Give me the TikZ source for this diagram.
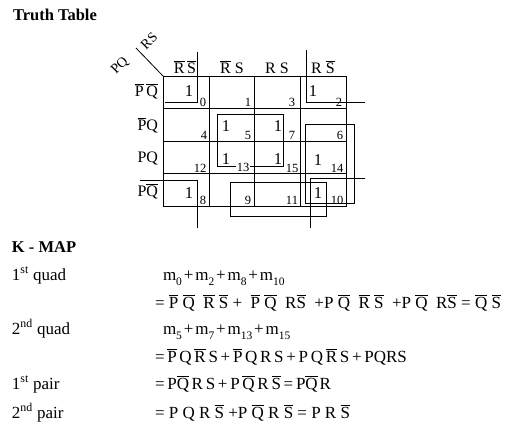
\documentclass[tikz,border=0pt]{standalone}
\usepackage{fontspec}
\setmainfont{Liberation Serif}
\newcommand\ob[1]{\ensuremath{\overline{\mbox{#1}}}}
\newcommand\fs[1]{\fontsize{#1}{#1}\selectfont}
\newcommand\sbs[1]{\raisebox{-0.3em}{\fs{11.5}#1}}
\newcommand\tsp{\hspace{0.16em}}
\newcommand\vsp{\hspace{0.11em}}
\begin{document}
\begin{tikzpicture}[x=1pt,y=-1pt,
  every node/.style={inner sep=0pt,outer sep=0pt},
  txt/.style={font=\fs{17},anchor=base west},
  ttl/.style={font=\bfseries\fs{16.5},anchor=base west},
  one/.style={font=\fs{16.5},anchor=base},
  num/.style={font=\fs{12.5},anchor=base},
  hdr/.style={font=\fs{16},anchor=base},
  rowl/.style={font=\fs{16},anchor=base east},
  diag/.style={font=\fs{14},rotate=45},
  gridline/.style={line width=0.8pt},
  loopline/.style={line width=0.8pt}]
\useasboundingbox (0,0) rectangle (511,431);
% title
\node[ttl] (title) at (13,20) {Truth Table};
% grid
\draw[gridline] (163,76) rectangle (346,206);
\foreach \x in {209,254,300} \draw[gridline] (\x,76) -- (\x,206);
\foreach \y in {108,141,173} \draw[gridline] (163,\y) -- (346,\y);
% corner diagonal
\draw[gridline] (163,76) -- (136,48);
\node[diag] (pq) at (120,66) {PQ};
\node[diag] (rs) at (149,41) {RS};
% column headers
\node[hdr] (c0) at (185,73) {\ob{R}\,\ob{S}};
\node[hdr] (c1) at (232,73) {\ob{R} S};
\node[hdr] (c2) at (277,73) {R S};
\node[hdr] (c3) at (323,73) {R \ob{S}};
% row headers
\node[rowl] (r0) at (158,96) {\ob{P}\,\ob{Q}};
\node[rowl] (r1) at (158,130) {\ob{P}Q};
\node[rowl] (r2) at (158,162) {PQ};
\node[rowl] (r3) at (158,196) {P\ob{Q}};
% ones
\node[one] (v0) at (189,96) {1};
\node[one] (v2) at (313,96) {1};
\node[one] (v5) at (226,131) {1};
\node[one] (v7) at (278,131) {1};
\node[one] (v13) at (226,164) {1};
\node[one] (v15) at (278,164) {1};
\node[one] (v14) at (318,165) {1};
\node[one] (v8) at (189,198) {1};
\node[one] (v10) at (318,198) {1};
% quad 2 and pairs
\draw[loopline] (217,114) rectangle (283,166);
\draw[loopline] (305,124) rectangle (354,203);
\draw[loopline] (230,182) rectangle (326,216);
% quad 1 corners
\draw[loopline] (197,52) -- (197,102) -- (165,102);
\draw[loopline] (306,50) -- (306,102) -- (365,102);
\draw[loopline] (140,180) -- (197,180) -- (197,228);
\draw[loopline] (365,178) -- (310,178) -- (310,228);
% cell numbers
\node[num] (n0) at (203,106) {0};
\node[num] (n1) at (248,106) {1};
\node[num] (n3) at (292,106) {3};
\node[num] (n2) at (339,106) {2};
\node[num] (n4) at (204,139) {4};
\node[num] (n5) at (248,139) {5};
\node[num] (n7) at (292,139) {7};
\node[num] (n6) at (340,139) {6};
\node[num] (n12) at (200,172) {12};
\node[num,fill=white,inner xsep=1pt] (n13) at (243,171) {13};
\node[num] (n15) at (292,172) {15};
\node[num] (n14) at (337,172) {14};
\node[num] (n8) at (203,204) {8};
\node[num] (n9) at (248,204) {9};
\node[num] (n11) at (292,204) {11};
\node[num] (n10) at (337,204) {10};
% K-map text
\node[ttl] (kmap) at (12,252) {K - MAP};
\node[txt] (l1) at (12,280) {1\textsuperscript{st} quad};
\node[txt] (e1) at (163,280) {m\sbs{0}\vsp+\vsp m\sbs{2}\vsp+\vsp m\sbs{8}\vsp+\vsp m\sbs{10}};
\node[txt] (e2) at (155,308) {= \ob{P} \ob{Q}~~\ob{R} \ob{S} +~~\ob{P} \ob{Q}~~R\ob{S}~~+P~\ob{Q}~~\ob{R}~\ob{S}~~+P~\ob{Q}~~R\ob{S}~= \ob{Q}~\ob{S}};
\node[txt] (l2) at (12,334) {2\textsuperscript{nd} quad};
\node[txt] (e3) at (163,334) {m\sbs{5}\vsp+\vsp m\sbs{7}\vsp+\vsp m\sbs{13}\vsp+\vsp m\sbs{15}};
\node[txt] (e4) at (155,362) {=\tsp\ob{P}\tsp Q\tsp\ob{R}\tsp S\tsp+\tsp\ob{P}\tsp Q\tsp R\tsp S\tsp+\tsp P\tsp Q\tsp\ob{R}\tsp S\tsp+\tsp PQRS};
\node[txt] (l3) at (12,389) {1\textsuperscript{st} pair};
\node[txt] (e5) at (155,389) {=\tsp P\ob{Q}\tsp R\tsp S\tsp+\tsp P\tsp\ob{Q}\tsp R\tsp\ob{S}\tsp=\tsp P\ob{Q}\vsp R};
\node[txt] (l4) at (12,418) {2\textsuperscript{nd} pair};
\node[txt] (e6) at (155,418) {= P Q R \ob{S}~+P \ob{Q} R \ob{S} = P R \ob{S}};
\end{tikzpicture}
\end{document}
